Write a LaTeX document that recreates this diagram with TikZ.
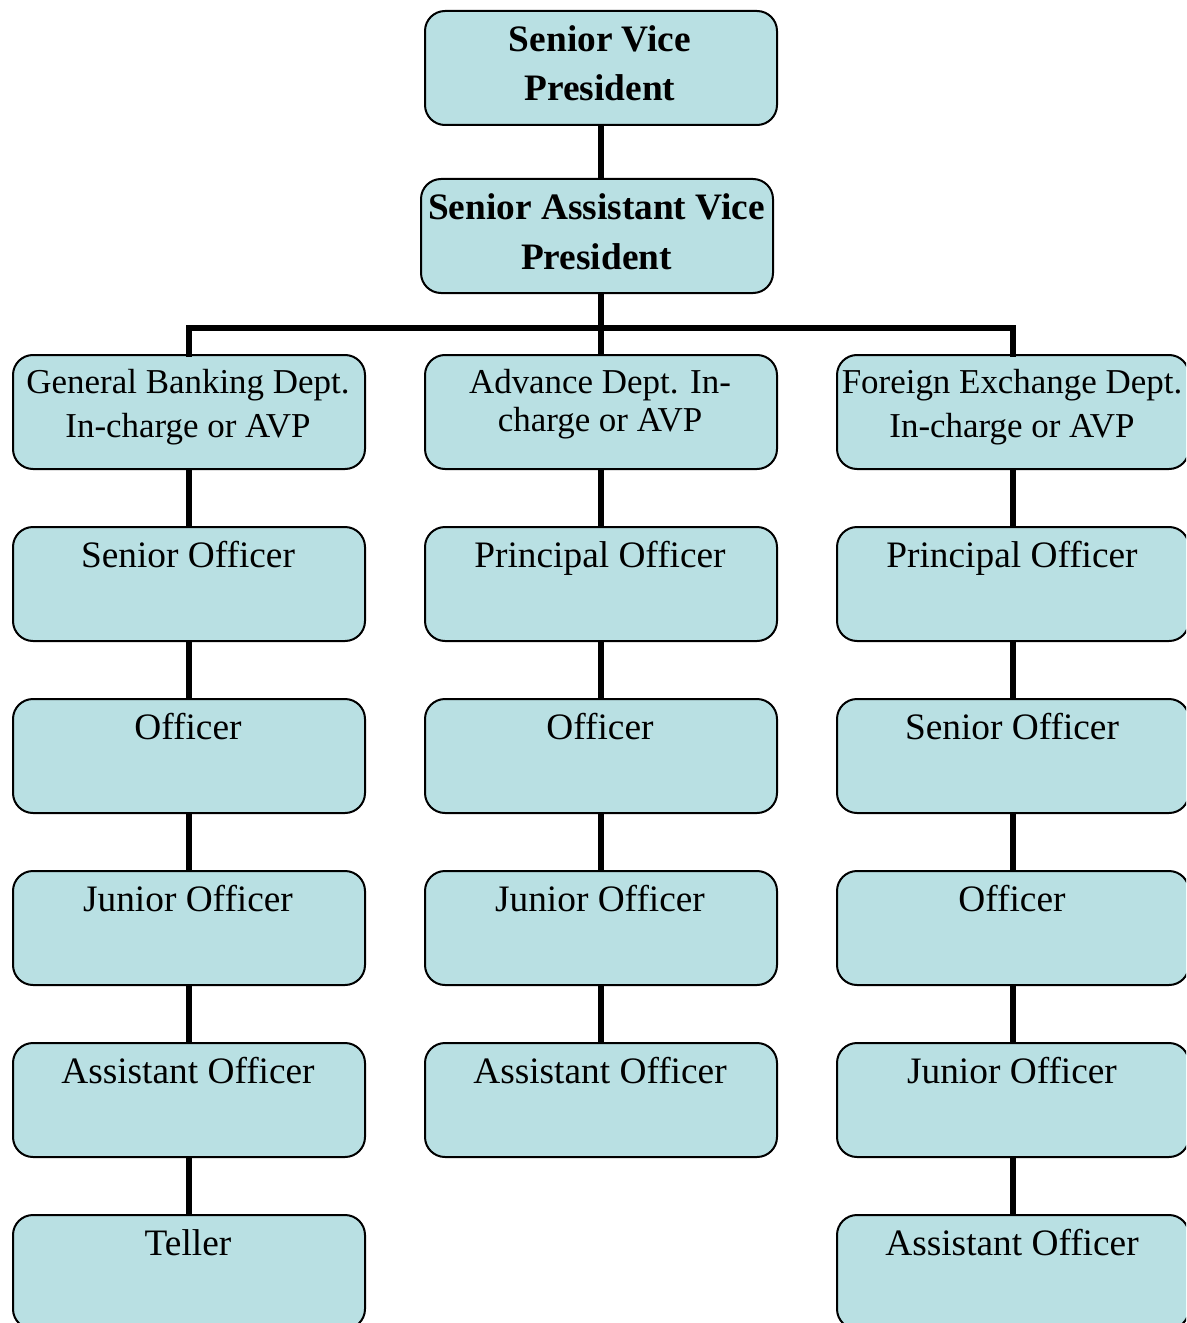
\documentclass[tikz,border=0pt]{standalone}
\usepackage{fontspec}
\setmainfont{Liberation Serif}
\definecolor{boxfill}{RGB}{185,224,227}
\begin{document}
\begin{tikzpicture}[x=0.75pt,y=-0.75pt,
  box/.style={draw=black, line width=1.5pt, fill=boxfill, rounded corners=15pt,
    minimum width=264pt, minimum height=85.5pt, inner sep=0pt, anchor=north west},
  lbl/.style={inner sep=0pt, anchor=base, font=\fontsize{28}{33}\selectfont},
  lbltop/.style={inner sep=0pt, anchor=base, align=center,
    font=\fontsize{28}{36.75}\selectfont\bfseries},
  lbldept/.style={inner sep=0pt, anchor=base, align=center,
    font=\fontsize{26.2}{33}\selectfont},
  link/.style={line width=4.5pt}]
\useasboundingbox (0,0) rectangle (1186,1323);
\clip (0,0) rectangle (1186,1323);

% top of the chart (anchor = baseline of the last line)
\node[box] (svp) at (424,10) {};
\node[lbltop] at (600,101) {Senior Vice\\President};
\node[box] (savp) at (420,178) {};
\node[lbltop] at (596.5,269) {Senior Assistant Vice\\President};

% department heads
\node[box] (gb) at (12,354) {};
\node[lbldept] at (188,437) {General Banking Dept.\\In-charge or AVP};
\node[box] (ad) at (424,354) {};
\node[lbldept, font=\fontsize{26.2}{28.5}\selectfont] at (600,431) {Advance Dept. In-\\charge or AVP};
\node[box] (fx) at (836,354) {};
\node[lbldept] at (1012,437) {Foreign Exchange Dept.\\In-charge or AVP};

% General Banking column
\node[box] (gb1) at (12,526) {};  \node[lbl] at (188,567) {Senior Officer};
\node[box] (gb2) at (12,698) {};  \node[lbl] at (188,739) {Officer};
\node[box] (gb3) at (12,870) {};  \node[lbl] at (188,911) {Junior Officer};
\node[box] (gb4) at (12,1042) {}; \node[lbl] at (188,1083) {Assistant Officer};
\node[box] (gb5) at (12,1214) {}; \node[lbl] at (188,1255) {Teller};

% Advance column
\node[box] (ad1) at (424,526) {};  \node[lbl] at (600,567) {Principal Officer};
\node[box] (ad2) at (424,698) {};  \node[lbl] at (600,739) {Officer};
\node[box] (ad3) at (424,870) {};  \node[lbl] at (600,911) {Junior Officer};
\node[box] (ad4) at (424,1042) {}; \node[lbl] at (600,1083) {Assistant Officer};

% Foreign Exchange column
\node[box] (fx1) at (836,526) {};  \node[lbl] at (1012,567) {Principal Officer};
\node[box] (fx2) at (836,698) {};  \node[lbl] at (1012,739) {Senior Officer};
\node[box] (fx3) at (836,870) {};  \node[lbl] at (1012,911) {Officer};
\node[box] (fx4) at (836,1042) {}; \node[lbl] at (1012,1083) {Junior Officer};
\node[box] (fx5) at (836,1214) {}; \node[lbl] at (1012,1255) {Assistant Officer};

% connectors
\coordinate (bus) at (600,328);
\draw[link] (svp.south) -- (svp.south |- savp.north);
\draw[link] (savp.south -| ad.north) -- (ad.north);
\draw[link, line cap=rect] (gb.north) |- (bus) -| (fx.north);
\foreach \c in {gb,ad,fx} {
  \draw[link] (\c.south) -- (\c1.north);
}
\foreach \c/\a/\b in {gb/1/2,gb/2/3,gb/3/4,gb/4/5,ad/1/2,ad/2/3,ad/3/4,fx/1/2,fx/2/3,fx/3/4,fx/4/5} {
  \draw[link] (\c\a.south) -- (\c\b.north);
}
\end{tikzpicture}
\end{document}
